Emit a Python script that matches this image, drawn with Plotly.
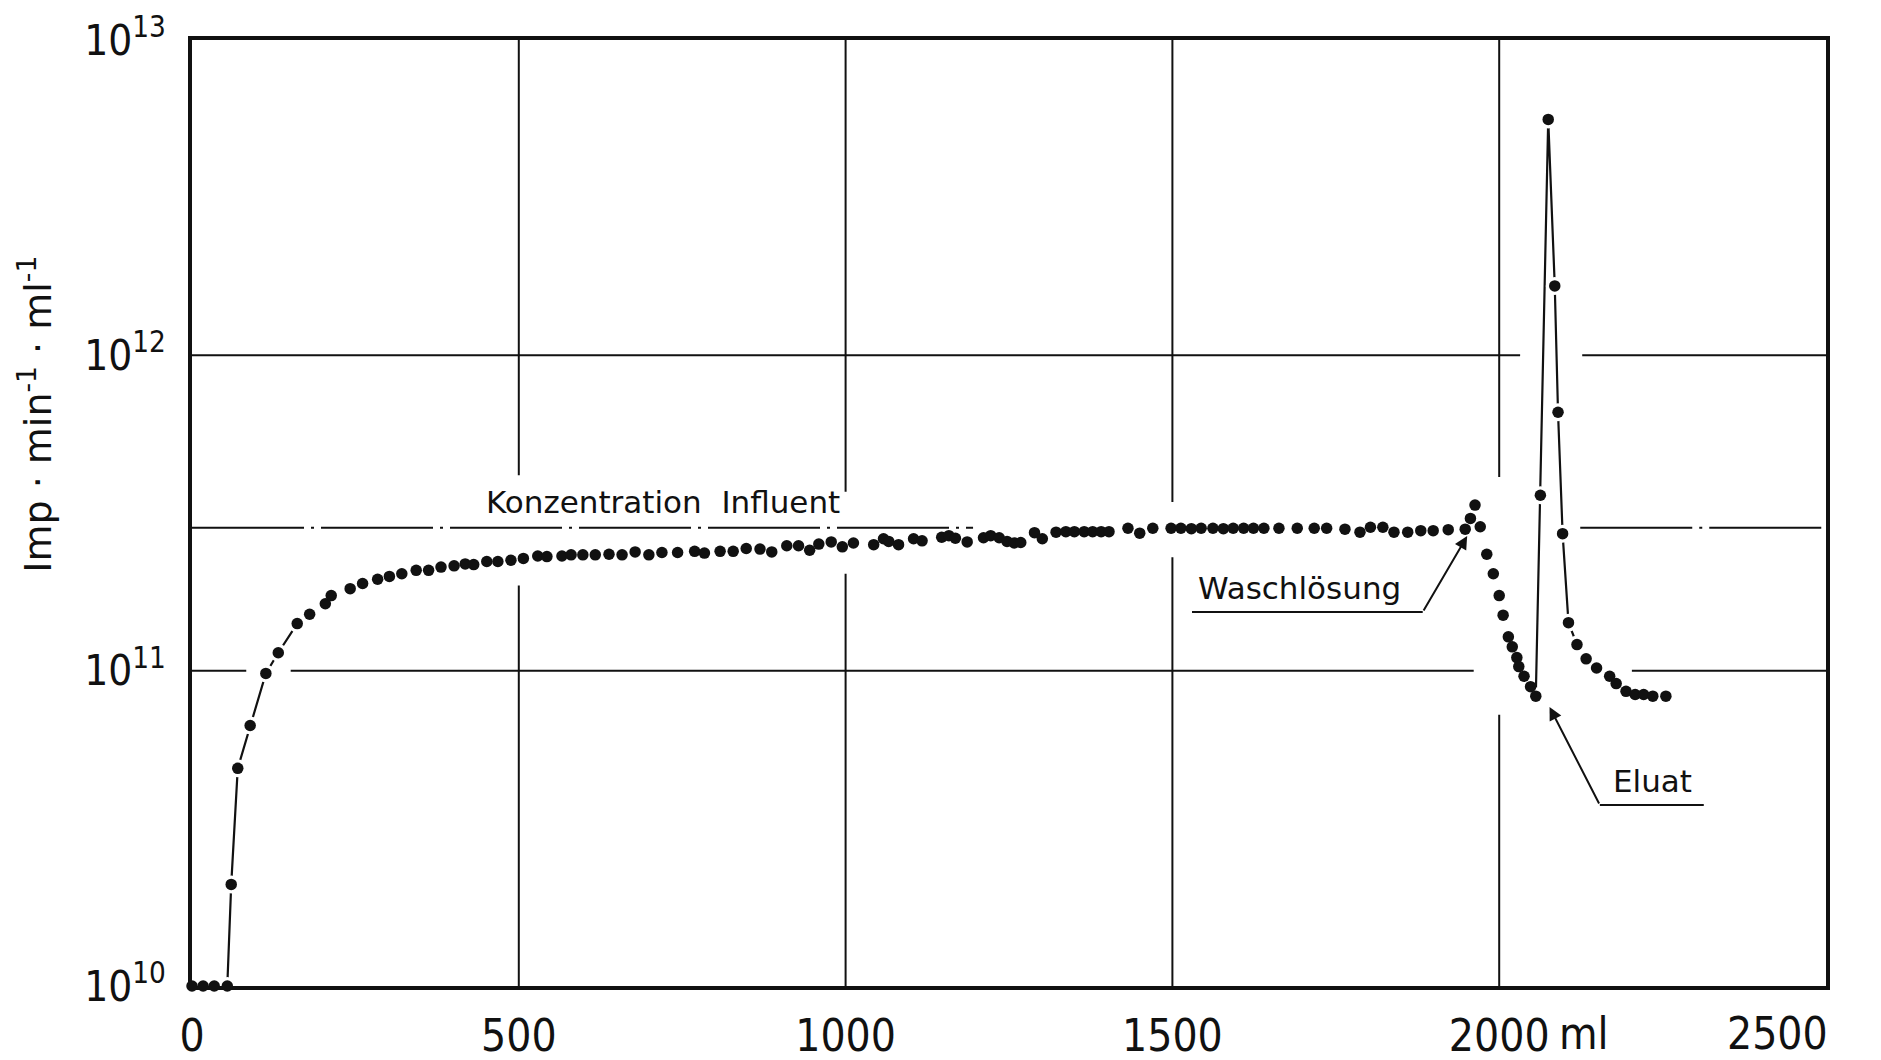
import plotly.graph_objects as go

# Column run: effluent volume (ml) and measured activity (Imp/min/ml)
volume_ml = [
    0, 17, 34, 54, 60, 70, 89, 113, 132, 161, 180, 204, 213, 242, 261, 284, 302,
    321, 343, 362, 381, 401, 418, 431, 451, 468, 488, 507, 529, 543, 566, 580,
    598, 617, 638, 658, 678, 699, 719, 743, 769, 784, 808, 828, 848, 869, 887,
    910, 928, 945, 959, 978, 995, 1012, 1043, 1058, 1066, 1081, 1104, 1117,
    1147, 1158, 1168, 1186, 1211, 1222, 1235, 1247, 1258, 1268, 1289, 1301,
    1322, 1337, 1350, 1365, 1378, 1391, 1403, 1432, 1450, 1470, 1498, 1513,
    1529, 1544, 1562, 1578, 1593, 1609, 1624, 1640, 1663, 1691, 1717, 1736,
    1764, 1787, 1803, 1822, 1839, 1860, 1880, 1899, 1922, 1948, 1956, 1963,
    1971, 1981, 1991, 2000, 2006, 2014, 2020, 2027, 2030, 2038, 2048, 2056,
    2063, 2075, 2085, 2090, 2097, 2106, 2119, 2133, 2149, 2169, 2179, 2194,
    2208, 2221, 2235, 2255,
]
activity = [
    1e10, 1e10, 1e10, 1e10, 2.1e10, 4.9e10, 6.7e10, 9.8e10, 1.14e11, 1.41e11,
    1.51e11, 1.63e11, 1.73e11, 1.82e11, 1.89e11, 1.95e11, 1.99e11, 2.03e11,
    2.08e11, 2.08e11, 2.13e11, 2.15e11, 2.18e11, 2.17e11, 2.22e11, 2.22e11,
    2.24e11, 2.27e11, 2.31e11, 2.30e11, 2.31e11, 2.33e11, 2.33e11, 2.33e11,
    2.34e11, 2.33e11, 2.38e11, 2.33e11, 2.37e11, 2.37e11, 2.39e11, 2.36e11,
    2.39e11, 2.39e11, 2.44e11, 2.43e11, 2.38e11, 2.49e11, 2.49e11, 2.41e11,
    2.52e11, 2.56e11, 2.47e11, 2.54e11, 2.51e11, 2.62e11, 2.57e11, 2.51e11,
    2.62e11, 2.58e11, 2.65e11, 2.68e11, 2.63e11, 2.56e11, 2.64e11, 2.68e11,
    2.64e11, 2.57e11, 2.54e11, 2.55e11, 2.74e11, 2.62e11, 2.75e11, 2.76e11,
    2.76e11, 2.76e11, 2.76e11, 2.76e11, 2.76e11, 2.83e11, 2.73e11, 2.83e11,
    2.83e11, 2.83e11, 2.82e11, 2.83e11, 2.83e11, 2.82e11, 2.83e11, 2.83e11,
    2.83e11, 2.83e11, 2.83e11, 2.83e11, 2.83e11, 2.83e11, 2.81e11, 2.75e11,
    2.85e11, 2.85e11, 2.75e11, 2.75e11, 2.78e11, 2.78e11, 2.80e11, 2.81e11,
    3.04e11, 3.35e11, 2.86e11, 2.34e11, 2.03e11, 1.73e11, 1.50e11, 1.28e11,
    1.19e11, 1.10e11, 1.03e11, 9.6e10, 8.9e10, 8.3e10, 3.6e11, 5.6e12,
    1.66e12, 6.6e11, 2.72e11, 1.42e11, 1.21e11, 1.09e11, 1.02e11, 9.6e10,
    9.1e10, 8.6e10, 8.4e10, 8.4e10, 8.3e10, 8.3e10,
]

# Influent concentration level (dash-dot reference line)
influent_level = 2.84e11

x_tickvals = [0, 500, 1000, 1500, 2000, 2500]
x_ticktext = ["0", "500", "1000", "1500", "2000", ""]  # last label set flush right below
x_last_label = "2500"
y_tickvals = [1e10, 1e11, 1e12, 1e13]
y_ticktext = ["10<sup>10</sup>", "10<sup>11</sup>", "10<sup>12</sup>", "10<sup>13</sup>"]

INK = "#111111"
TICK_FONT = "DejaVu Sans Condensed, DejaVu Sans, sans-serif"
TEXT_FONT = "DejaVu Sans, sans-serif"

# Connected stretches: breakthrough front and elution peak
rise_x = [v for v in volume_ml if 54 <= v <= 161]
rise_y = [a for v, a in zip(volume_ml, activity) if 54 <= v <= 161]
peak_x = [v for v in volume_ml if 2056 <= v <= 2119]
peak_y = [a for v, a in zip(volume_ml, activity) if 2056 <= v <= 2119]

fig = go.Figure()
for xs, ys in ((rise_x, rise_y), (peak_x, peak_y)):
    fig.add_trace(go.Scatter(x=xs, y=ys, mode="lines",
                             line=dict(color=INK, width=2.2), hoverinfo="skip"))
    # white halo so the connecting line stops short of each dot
    fig.add_trace(go.Scatter(x=xs, y=ys, mode="markers", cliponaxis=False,
                             marker=dict(color="white", size=18), hoverinfo="skip"))
fig.add_trace(go.Scatter(x=volume_ml, y=activity, mode="markers", cliponaxis=False,
                         marker=dict(color=INK, size=11.5)))

# Grid drawn as segments, left open where curve and labels pass
GRID = dict(color=INK, width=2)
shapes = []
def seg(x0, x1, y0, y1, line=GRID):
    shapes.append(dict(type="line", xref="x", yref="y", x0=x0, x1=x1, y0=y0, y1=y1,
                       line=line, layer="below"))

for a, b in ((0, 2032), (2127, 2500)):
    seg(a, b, 1e12, 1e12)
for a, b in ((0, 83), (151, 1961), (2203, 2500)):
    seg(a, b, 1e11, 1e11)
dashdot = dict(color=INK, width=2, dash="112px,7px,3px,7px")
for a, b in ((0, 1195), (2124, 2500)):
    seg(a, b, influent_level, influent_level, dashdot)
for xv, lo, hi in ((500, 11.27, 11.62), (1000, 11.307, 11.567),
                   (1500, 11.36, 11.535), (2000, 10.86, 11.614)):
    seg(xv, xv, 1e10, 10 ** lo)
    seg(xv, xv, 10 ** hi, 1e13)

# Leader lines under the labels
ARROW_LINE = dict(color=INK, width=2)
seg(1530, 1883, 10 ** 11.186, 10 ** 11.186, ARROW_LINE)
seg(2154, 2313, 10 ** 10.574, 10 ** 10.574, ARROW_LINE)

annotations = [
    dict(x=720, y=11.535, xref="x", yref="y", text="Konzentration  Influent",
         showarrow=False, font=dict(family=TEXT_FONT, size=31, color=INK)),
    dict(x=1694, y=11.262, xref="x", yref="y", text="Waschlösung",
         showarrow=False, font=dict(family=TEXT_FONT, size=31, color=INK)),
    dict(x=2234, y=10.65, xref="x", yref="y", text="Eluat",
         showarrow=False, font=dict(family=TEXT_FONT, size=31, color=INK)),
    dict(x=1951, y=11.427, xref="x", yref="y", ax=1883, ay=11.186,
         axref="x", ayref="y", text="", showarrow=True, arrowhead=2,
         arrowsize=1.3, arrowwidth=2, arrowcolor=INK),
    dict(x=2077, y=10.885, xref="x", yref="y", ax=2154, ay=10.574,
         axref="x", ayref="y", text="", showarrow=True, arrowhead=2,
         arrowsize=1.3, arrowwidth=2, arrowcolor=INK),
    # unit next to the 2000 tick
    dict(x=2000, y=0, xref="x", yref="paper", text="ml", showarrow=False,
         xanchor="left", yanchor="top", xshift=58, yshift=-20,
         font=dict(family=TICK_FONT, size=44, color=INK)),
    # last x label, kept inside the page edge
    dict(x=2500, y=0, xref="x", yref="paper", text=x_last_label, showarrow=False,
         xanchor="right", yanchor="top", xshift=4, yshift=-20,
         font=dict(family=TICK_FONT, size=44, color=INK)),
    # y-axis title
    dict(x=-0.096, y=0.604, xref="paper", yref="paper",
         text="Imp · min<sup>-1</sup> · ml<sup>-1</sup>", textangle=-90,
         showarrow=False, xanchor="center", yanchor="middle",
         font=dict(family=TEXT_FONT, size=38, color=INK)),
]

fig.update_layout(
    width=1881, height=1060,
    margin=dict(l=192, r=55, t=40, b=74),
    paper_bgcolor="white", plot_bgcolor="white",
    showlegend=False, shapes=shapes, annotations=annotations,
)
fig.update_xaxes(
    range=[0, 2500], tickvals=x_tickvals, ticktext=x_ticktext, automargin=False,
    showgrid=False, zeroline=False, showline=True, mirror=True,
    linewidth=3.5, linecolor=INK, ticks="", ticklabelstandoff=8,
    tickfont=dict(family=TICK_FONT, size=44, color=INK),
)
fig.update_yaxes(
    type="log", range=[10, 13], tickvals=y_tickvals, ticktext=y_ticktext,
    automargin=False,
    showgrid=False, zeroline=False, showline=True, mirror=True,
    linewidth=3.5, linecolor=INK, ticks="", ticklabelstandoff=14,
    tickfont=dict(family=TICK_FONT, size=42, color=INK),
)

fig.write_html("out.html")
